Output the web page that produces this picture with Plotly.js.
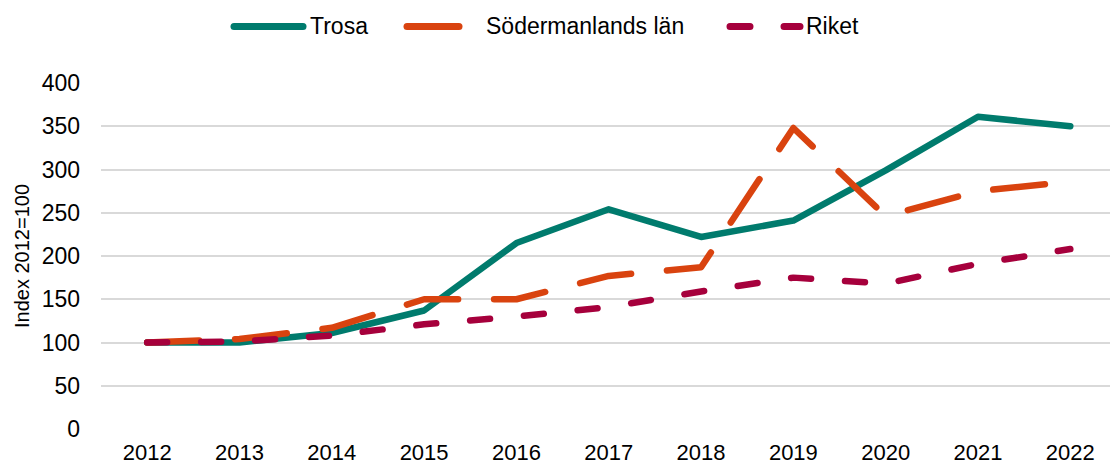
<!DOCTYPE html>
<html>
<head>
<meta charset="utf-8">
<script src="https://cdn.plot.ly/plotly-3.0.1.min.js"></script>
<style>
  html, body { margin: 0; padding: 0; background: #fff; }
  #chart { width: 1110px; height: 468px; }
  .js-line, .shapelayer path { stroke-linecap: round; stroke-linejoin: round; }
</style>
</head>
<body>
<div id="chart"></div>
<script>
const years = ["2012","2013","2014","2015","2016","2017","2018","2019","2020","2021","2022"];
const seriesNames = ["Trosa", "Södermanlands län", "Riket"];
const trosa = [100, 100, 111, 137, 215, 254, 222, 241, 299, 361, 350];
const sodermanland = [100, 104, 117, 150, 150, 177, 187, 348, 246, 275, 286];
const riket = [100, 101, 108, 121, 130, 141, 159, 175, 168, 191, 208];
const yTicks = [0, 50, 100, 150, 200, 250, 300, 350, 400];

const colors = ["#007B6D", "#D9430F", "#A6003C"];
const dashes = ["solid", "52px,36px", "20px,34px"];
const values = [trosa, sodermanland, riket];
const FONT = "Liberation Sans, Arial, sans-serif";

const traces = values.map((v, i) => ({
  type: "scatter",
  mode: "lines",
  name: seriesNames[i],
  x: years,
  y: v,
  line: { color: colors[i], width: 6.5, dash: dashes[i] },
  showlegend: false,
  hoverinfo: "x+y+name"
}));

// Custom legend (long line samples like the reference)
const plotL = 101, plotW = 1009, plotB = 429, plotH = 346;
const px = x => (x - plotL) / plotW;
const py = y => (plotB - y) / plotH;
const legendY = 26.5;
const legendLines = [[234, 303], [407, 465], [730, 800]];
const legendTextX = [309, 485, 805];
const shapes = legendLines.map((s, i) => ({
  type: "line", xref: "paper", yref: "paper",
  x0: px(s[0]), x1: px(s[1]), y0: py(legendY), y1: py(legendY),
  line: { color: colors[i], width: 7, dash: dashes[i] }
}));
const annotations = seriesNames.map((n, i) => ({
  text: n, xref: "paper", yref: "paper",
  x: px(legendTextX[i]), y: py(26), xanchor: "left", yanchor: "middle",
  showarrow: false, borderpad: 0,
  font: { family: FONT, size: 23, color: "#000" }
}));

const layout = {
  width: 1110, height: 468,
  margin: { l: plotL, r: 0, t: 83, b: 39, pad: 0 },
  paper_bgcolor: "#fff", plot_bgcolor: "#fff",
  font: { family: FONT, size: 23, color: "#000" },
  showlegend: false,
  xaxis: {
    type: "category",
    range: [-0.5, 10.43],
    showgrid: false, zeroline: false, showline: false,
    ticks: "", ticklabelstandoff: 8,
    tickfont: { family: FONT, size: 22, color: "#000" },
    fixedrange: true
  },
  yaxis: {
    range: [0, 400],
    tickvals: yTicks,
    ticktext: yTicks.map(String),
    showgrid: true, gridcolor: "#d9d9d9", gridwidth: 2,
    zeroline: false, showline: false, ticks: "",
    ticklabelstandoff: 20,
    tickfont: { family: FONT, size: 23, color: "#000" },
    title: { text: "Index 2012=100", font: { family: FONT, size: 20, color: "#000" }, standoff: 6 },
    automargin: false,
    fixedrange: true
  },
  shapes: shapes,
  annotations: annotations
};

Plotly.newPlot("chart", traces, layout, { displayModeBar: false, staticPlot: true });
</script>
</body>
</html>
